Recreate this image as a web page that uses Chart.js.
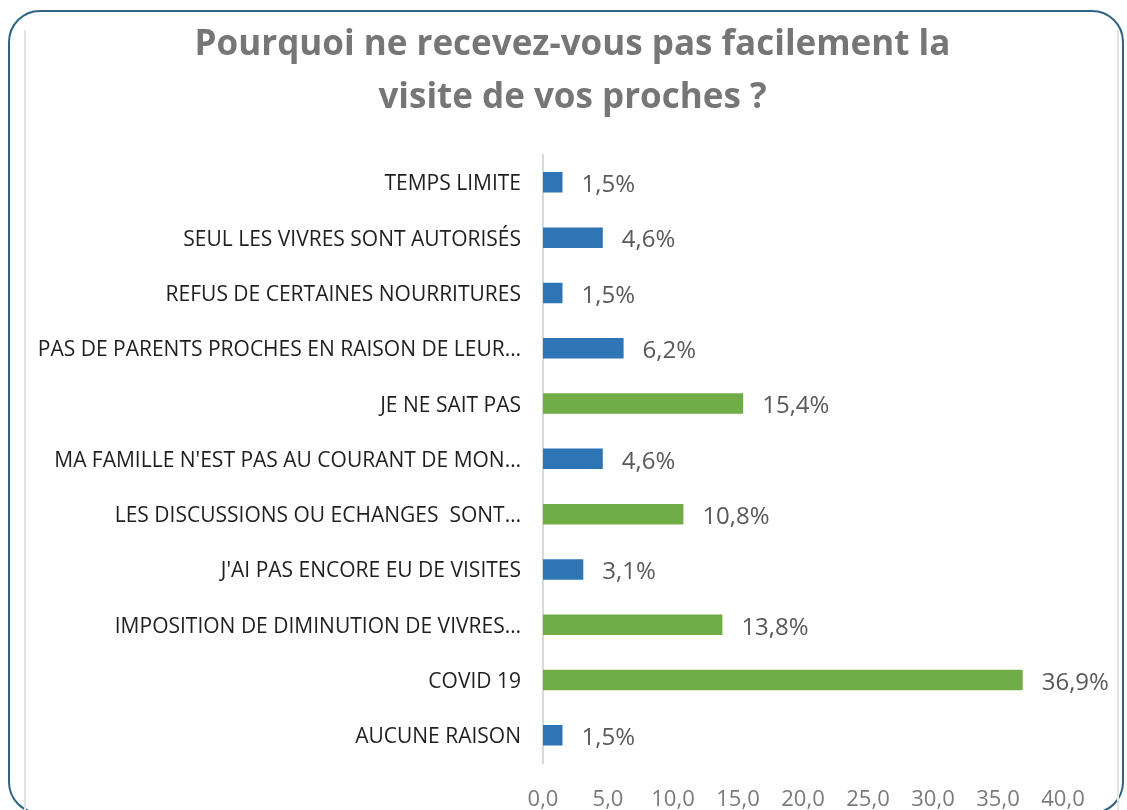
<!DOCTYPE html>
<html>
<head>
<meta charset="utf-8">
<script src="https://cdn.jsdelivr.net/npm/chart.js@4"></script>
<style>
  html, body { margin: 0; padding: 0; background: #fff; overflow: hidden; }
  #wrap { position: relative; width: 1127px; height: 810px; }
  #frame {
    position: absolute; left: 8px; top: 10px; width: 1116px; height: 804px;
    border: 2.5px solid #2f6384; border-radius: 32px; box-sizing: border-box;
  }
  .rule { position: absolute; top: 30px; bottom: 0; width: 2px; background: #e4e4e4; }
  canvas { position: absolute; left: 0; top: 0; }
</style>
</head>
<body>
<div id="wrap">
  <div id="frame"></div>
  <div class="rule" style="left:24px"></div>
  <div class="rule" style="left:1117px"></div>
  <canvas id="chart" width="1127" height="810"></canvas>
</div>
<script>
const titleLines = ['Pourquoi ne recevez-vous pas facilement la', 'visite de vos proches ?'];

const categories = [
    'TEMPS LIMITE',
    'SEUL LES VIVRES SONT AUTORISÉS',
    'REFUS DE CERTAINES NOURRITURES',
    'PAS DE PARENTS PROCHES EN RAISON DE LEUR…',
    'JE NE SAIT PAS',
    "MA FAMILLE N'EST PAS AU COURANT DE MON…",
    'LES DISCUSSIONS OU ECHANGES  SONT…',
    "J'AI PAS ENCORE EU DE VISITES",
    'IMPOSITION DE DIMINUTION DE VIVRES…',
    'COVID 19',
    'AUCUNE RAISON'
];
const values = [1.5, 4.6, 1.5, 6.2, 15.4, 4.6, 10.8, 3.1, 13.8, 36.9, 1.5];
// which bars are green in the picture
const highlighted = [false, false, false, false, true, false, true, false, true, true, false];
const xTicks = [0, 5, 10, 15, 20, 25, 30, 35, 40];

const BLUE = '#2e75b6';
const GREEN = '#70ad47';
const fmt = v => v.toFixed(1).replace('.', ',');

// value labels at the end of each bar
const barLabels = {
    id: 'barLabels',
    afterDatasetsDraw: (chart) => {
        const { ctx } = chart;
        const meta = chart.getDatasetMeta(0);
        ctx.save();
        ctx.font = '24px "Open Sans"';
        ctx.fillStyle = '#595959';
        ctx.textAlign = 'left';
        ctx.textBaseline = 'middle';
        meta.data.forEach((bar, i) => {
            ctx.fillText(fmt(values[i]) + '%', bar.x + 19, bar.y + 3);
        });
        ctx.restore();
    }
};

const ctx = document.getElementById('chart').getContext('2d');
new Chart(ctx, {
    type: 'bar',
    data: {
        labels: categories,
        datasets: [{
            data: values,
            backgroundColor: highlighted.map(h => h ? GREEN : BLUE),
            borderWidth: 0,
            barPercentage: 0.37,
            categoryPercentage: 1
        }]
    },
    options: {
        indexAxis: 'y',
        responsive: false,
        animation: false,
        layout: { padding: { left: 18, right: 0, top: 0, bottom: 0 } },
        plugins: {
            legend: { display: false },
            tooltip: { enabled: false },
            title: {
                display: true,
                text: titleLines,
                color: '#767676',
                font: { family: 'Open Sans', size: 35, weight: 'bold', lineHeight: 1.51 },
                padding: { top: 19, bottom: 30 }
            }
        },
        scales: {
            x: {
                min: 0,
                max: 40,
                afterBuildTicks: (scale) => { scale.ticks = xTicks.map(v => ({ value: v })); },
                afterFit: (scale) => { scale.height = 47; },
                grid: { display: false, drawTicks: false },
                border: { display: false },
                ticks: {
                    callback: v => fmt(v),
                    color: '#7a7a7a',
                    font: { family: 'Open Sans', size: 22 },
                    padding: 24,
                    maxRotation: 0
                }
            },
            y: {
                afterFit: (scale) => { scale.width = 525; },
                grid: { display: false, drawTicks: false },
                border: { display: true, color: '#d9d9d9', width: 2 },
                ticks: {
                    color: '#1f1f1f',
                    font: { family: 'Open Sans', size: 21 },
                    padding: 22,
                    labelOffset: 2,
                    autoSkip: false
                }
            },
            // empty right-hand spacer so the value axis ends where it does in the picture
            yRight: {
                type: 'category',
                position: 'right',
                afterFit: (scale) => { scale.width = 64; },
                grid: { display: false, drawTicks: false },
                border: { display: false },
                ticks: { display: false }
            }
        }
    },
    plugins: [barLabels]
});
</script>
</body>
</html>
